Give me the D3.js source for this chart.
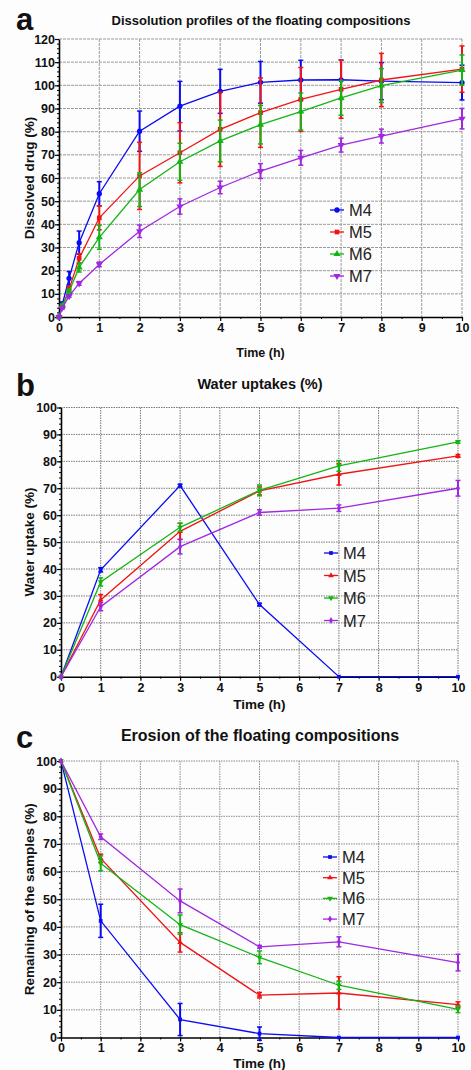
<!DOCTYPE html>
<html>
<head>
<meta charset="utf-8">
<script src="https://cdnjs.cloudflare.com/ajax/libs/d3/7.8.5/d3.min.js"></script>
<style>
  body { margin: 0; background: #fff; }
  svg { display: block; font-family: "Liberation Sans", Arial, sans-serif; }
</style>
</head>
<body>
<svg id="chart"></svg>
<script>
const w = 471
const h = 1070

const series = ["M4", "M5", "M6", "M7"]
const colors = ["#0a0af5", "#f01414", "#14b414", "#a028e0"]

// panel a - dissolution
const timeA = [0, 0.083, 0.25, 0.5, 1, 2, 3, 4, 5, 6, 7, 8, 10]
const m4A = [0, 5.5, 16.7, 32.1, 53.2, 80.2, 91, 97.4, 101.3, 102.3, 102.4, 101.8, 101.2]
const m4AErr = [0, 1, 2.9, 5, 5.2, 8.7, 10.7, 9.5, 9, 8.5, 8.5, 8, 7.5]
const m5A = [0, 4.5, 12, 25.3, 42.8, 60.9, 70.9, 81, 88.2, 93.9, 98.3, 102.3, 107]
const m5AErr = [0, 0.8, 1.2, 2, 5.2, 14.5, 13, 16, 15, 13.8, 12.5, 11.5, 10]
const m6A = [0, 4.8, 11, 21.4, 34.4, 55, 67, 76, 83, 88.7, 94.6, 99.9, 106.6]
const m6AErr = [0, 0.8, 1, 2, 5.2, 7.3, 8, 9, 8.3, 8, 7.5, 7.3, 6.5]
const m7A = [0, 4, 9, 14.5, 22.7, 37, 47.7, 55.9, 63, 68.7, 74.2, 78.1, 85.6]
const m7AErr = [0, 0.5, 0.5, 0.8, 1, 2.7, 3.3, 2.7, 3.2, 3.2, 3, 3, 4.4]

// panel b - water uptake
const timeB = [0, 1, 3, 5, 7, 10]
const m4B = [0, 39.7, 71, 26.8, 0, 0]
const m4BErr = [0, 0.8, 0.5, 0.5, 0, 0]
const m5B = [0, 28.5, 54, 69, 75.2, 82]
const m5BErr = [0, 2, 3, 1.5, 4, 0.5]
const m6B = [0, 35.2, 55.5, 69.2, 78.3, 87.2]
const m6BErr = [0, 1.5, 1.5, 2, 2, 0.5]
const m7B = [0, 26, 48.3, 61, 62.6, 70]
const m7BErr = [0, 1.5, 2.7, 1, 1.2, 2.9]

// panel c - erosion
const timeC = [0, 1, 3, 5, 7, 10]
const m4C = [100, 42.2, 6.5, 1.4, 0, 0]
const m4CErr = [0, 6, 5.8, 2.4, 0, 0]
const m5C = [100, 64.8, 34.4, 15.3, 16.1, 11.9]
const m5CErr = [0, 1.5, 3.5, 1, 5.9, 1]
const m6C = [100, 63, 40.8, 29, 18.9, 10.2]
const m6CErr = [0, 2.7, 3.5, 2.3, 1.5, 1.2]
const m7C = [100, 72.6, 49.4, 32.8, 34.6, 27.1]
const m7CErr = [0, 1, 4.3, 0.5, 1.8, 3]

const xTicks = [0, 1, 2, 3, 4, 5, 6, 7, 8, 9, 10]
const yTicksA = [0, 10, 20, 30, 40, 50, 60, 70, 80, 90, 100, 110, 120]
const yTicksBC = [0, 10, 20, 30, 40, 50, 60, 70, 80, 90, 100]

let svg = d3.select("#chart").attr("width", w).attr("height", h)
svg.append("rect").attr("width", w).attr("height", h).attr("fill", "#fdfdfd")

let markersA = [d3.symbolCircle, d3.symbolSquare, d3.symbolTriangle, "down"]
let markersBC = [d3.symbolSquare, d3.symbolTriangle, "down", d3.symbolDiamond]

let drawPanel = (cfg) => {
  let g = svg.append("g")
  let xScale = d3.scaleLinear().domain([0, 10]).range([cfg.left, cfg.right])
  let yScale = d3.scaleLinear().domain([0, cfg.yMax]).range([cfg.bottom, cfg.top])

  // grid
  g.append("g").selectAll("line").data(xTicks.slice(1)).enter().append("line")
    .attr("x1", d => xScale(d)).attr("x2", d => xScale(d))
    .attr("y1", cfg.top).attr("y2", cfg.bottom)
    .attr("stroke", cfg.gridColor).attr("stroke-width", 1)
    .attr("stroke-dasharray", cfg.gridDash)
  g.append("g").selectAll("line").data(cfg.yTicks.slice(1)).enter().append("line")
    .attr("x1", cfg.left).attr("x2", cfg.right)
    .attr("y1", d => yScale(d)).attr("y2", d => yScale(d))
    .attr("stroke", cfg.gridColor).attr("stroke-width", 1)
    .attr("stroke-dasharray", cfg.gridDash)

  // minor ticks
  let yMinor = d3.range(0, cfg.yMax + 0.1, 2)
  g.append("g").attr("transform", "translate(" + cfg.left + ",0)")
    .call(d3.axisLeft(yScale).tickValues(yMinor).tickSize(2).tickFormat(""))
    .call(a => a.select(".domain").remove())
  let xMinor = d3.range(0, 10.01, 0.5)
  g.append("g").attr("transform", "translate(0," + cfg.bottom + ")")
    .call(d3.axisBottom(xScale).tickValues(xMinor).tickSize(2).tickFormat(""))
    .call(a => a.select(".domain").remove())

  // axes
  let yAxis = g.append("g").attr("transform", "translate(" + cfg.left + ",0)")
    .call(d3.axisLeft(yScale).tickValues(cfg.yTicks).tickSize(4).tickSizeOuter(0))
  let xAxis = g.append("g").attr("transform", "translate(0," + cfg.bottom + ")")
    .call(d3.axisBottom(xScale).tickValues(xTicks).tickSize(4).tickSizeOuter(0))
  ;[yAxis, xAxis].forEach(a => {
    a.select(".domain").attr("stroke-width", 1.6)
    a.selectAll(".tick line").attr("stroke-width", 1.2)
    a.selectAll("text").attr("font-size", 12.5).attr("font-weight", "bold")
      .attr("fill", "#111").attr("font-family", "Liberation Sans, Arial, sans-serif")
  })
  yAxis.selectAll("text").attr("x", -4)
  xAxis.selectAll("text").attr("y", 6)

  // series
  cfg.data.forEach((vals, i) => {
    let pts = cfg.time.map((t, j) => [t, vals[j], cfg.err[i][j]])
    let sg = g.append("g")
    sg.selectAll("line.err").data(pts.filter(p => p[2] > 0)).enter().append("line")
      .attr("x1", p => xScale(p[0])).attr("x2", p => xScale(p[0]))
      .attr("y1", p => yScale(p[1] - p[2])).attr("y2", p => yScale(p[1] + p[2]))
      .attr("stroke", colors[i]).attr("stroke-width", 2)
    ;[-1, 1].forEach(s => {
      sg.selectAll("line.cap" + s).data(pts.filter(p => p[2] > 0)).enter().append("line")
        .attr("x1", p => xScale(p[0]) - 2.5).attr("x2", p => xScale(p[0]) + 2.5)
        .attr("y1", p => yScale(p[1] + s * p[2])).attr("y2", p => yScale(p[1] + s * p[2]))
        .attr("stroke", colors[i]).attr("stroke-width", 1.5)
    })
    sg.append("path").datum(pts)
      .attr("d", d3.line().x(p => xScale(p[0])).y(p => yScale(p[1])))
      .attr("fill", "none").attr("stroke", colors[i]).attr("stroke-width", 1.3)
    let m = cfg.markers[i]
    let sym = d3.symbol().type(m === "down" ? d3.symbolTriangle : m).size(cfg.markerSize)
    sg.selectAll("path.mk").data(pts).enter().append("path")
      .attr("d", sym)
      .attr("transform", p => "translate(" + xScale(p[0]) + "," + yScale(p[1]) + ")" + (m === "down" ? " rotate(180)" : ""))
      .attr("fill", colors[i])

    // legend
    let ly = cfg.legendY + i * cfg.legendStep
    g.append("line").attr("x1", cfg.legendX).attr("x2", cfg.legendX + 14)
      .attr("y1", ly).attr("y2", ly).attr("stroke", colors[i]).attr("stroke-width", 1.3)
    g.append("path").attr("d", sym)
      .attr("transform", "translate(" + (cfg.legendX + 7) + "," + ly + ")" + (m === "down" ? " rotate(180)" : ""))
      .attr("fill", colors[i])
    g.append("text").attr("x", cfg.legendX + 19).attr("y", ly + 6)
      .attr("font-size", 16.5).attr("fill", "#222").text(series[i])
  })

  // titles
  svg.append("text").attr("x", 16).attr("y", cfg.labelY).attr("font-size", 31)
    .attr("font-weight", "bold").attr("fill", "#111").text(cfg.label)
  svg.append("text").attr("x", cfg.titleX).attr("y", cfg.titleY).attr("text-anchor", "middle")
    .attr("font-size", cfg.titleSize).attr("font-weight", "bold").attr("fill", "#111").text(cfg.title)
  svg.append("text").attr("x", (cfg.left + cfg.right) / 2).attr("y", cfg.xLabelY).attr("text-anchor", "middle")
    .attr("font-size", cfg.xLabelSize).attr("font-weight", "bold").attr("fill", "#111").text("Time (h)")
  svg.append("text").attr("transform", "translate(" + cfg.yLabelX + "," + ((cfg.top + cfg.bottom) / 2) + ") rotate(-90)")
    .attr("text-anchor", "middle").attr("font-size", cfg.yLabelSize).attr("font-weight", "bold")
    .attr("fill", "#111").text(cfg.yLabel)
}

drawPanel({
  left: 59, right: 462, top: 39, bottom: 317, yMax: 120, yTicks: yTicksA,
  time: timeA, data: [m4A, m5A, m6A, m7A], err: [m4AErr, m5AErr, m6AErr, m7AErr],
  markers: markersA, markerSize: 22, gridColor: "#9a9a9a", gridDash: "3,1",
  legendX: 330, legendY: 210, legendStep: 22,
  label: "a", labelY: 30, title: "Dissolution profiles of the floating compositions",
  titleX: 261, titleY: 25, titleSize: 13, xLabelY: 357, xLabelSize: 12.5,
  yLabelX: 34, yLabelSize: 13.5, yLabel: "Dissolved drug (%)"
})

drawPanel({
  left: 61, right: 458, top: 407.5, bottom: 676.7, yMax: 100, yTicks: yTicksBC,
  time: timeB, data: [m4B, m5B, m6B, m7B], err: [m4BErr, m5BErr, m6BErr, m7BErr],
  markers: markersBC, markerSize: 14, gridColor: "#777", gridDash: "1.5,1",
  legendX: 324, legendY: 553, legendStep: 22.5,
  label: "b", labelY: 396, title: "Water uptakes (%)",
  titleX: 260, titleY: 389, titleSize: 14.5, xLabelY: 709, xLabelSize: 13.5,
  yLabelX: 34, yLabelSize: 13.5, yLabel: "Water uptake (%)"
})

drawPanel({
  left: 61, right: 458, top: 761, bottom: 1037.5, yMax: 100, yTicks: yTicksBC,
  time: timeC, data: [m4C, m5C, m6C, m7C], err: [m4CErr, m5CErr, m6CErr, m7CErr],
  markers: markersBC, markerSize: 14, gridColor: "#8a8a8a", gridDash: "1.5,1",
  legendX: 323, legendY: 857, legendStep: 20.7,
  label: "c", labelY: 748, title: "Erosion of the floating compositions",
  titleX: 260, titleY: 741, titleSize: 16, xLabelY: 1068, xLabelSize: 13.5,
  yLabelX: 34, yLabelSize: 13.5, yLabel: "Remaining of the samples (%)"
})
</script>
</body>
</html>
